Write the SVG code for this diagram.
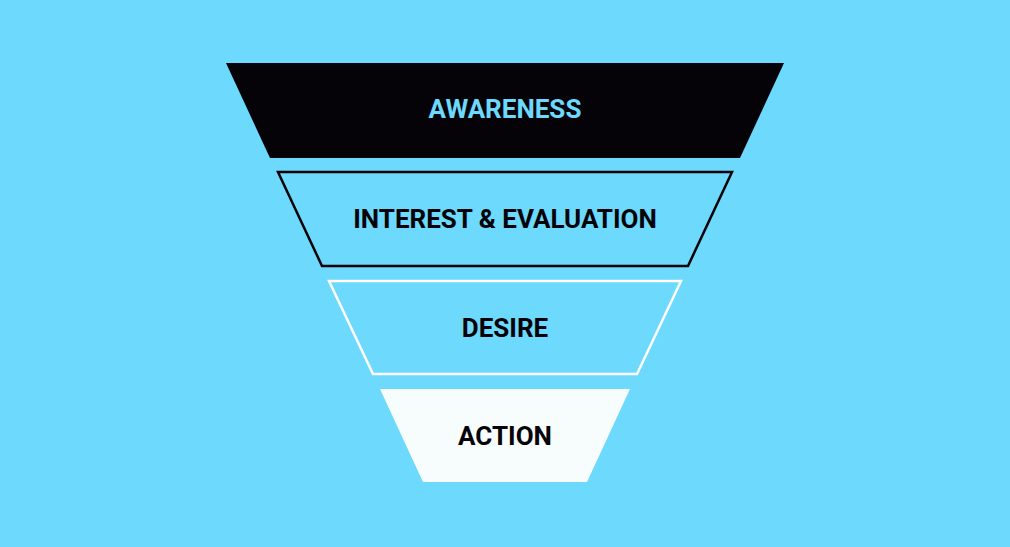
<svg xmlns="http://www.w3.org/2000/svg" width="1010" height="547" viewBox="0 0 1010 547">
<style>
.t{font-family:Roboto,"Liberation Sans",sans-serif;font-weight:bold;font-size:26px;text-anchor:middle}
</style>
<rect width="1010" height="547" fill="#6cd9fd"/>
<g id="awareness">
<polygon points="226,63 784,63 740,158 270,158" fill="#050308"/>
<text class="t" x="505" y="118" fill="#6cd9fd">AWARENESS</text>
</g>
<g id="interest">
<polygon points="278,172 732,172 688,266 322,266" fill="#6cd9fd" stroke="#050308" stroke-width="2.5"/>
<text class="t" x="505" y="228" fill="#050308">INTEREST &amp; EVALUATION</text>
</g>
<g id="desire">
<polygon points="329,281 681,281 637,374 373,374" fill="#6cd9fd" stroke="#ffffff" stroke-width="2.5"/>
<text class="t" x="505" y="337" fill="#050308">DESIRE</text>
</g>
<g id="action">
<polygon points="380,389 630,389 587,482 423,482" fill="#f7fcfd"/>
<text class="t" x="505" y="445" fill="#050308">ACTION</text>
</g>
<g id="connectors"/>
</svg>
